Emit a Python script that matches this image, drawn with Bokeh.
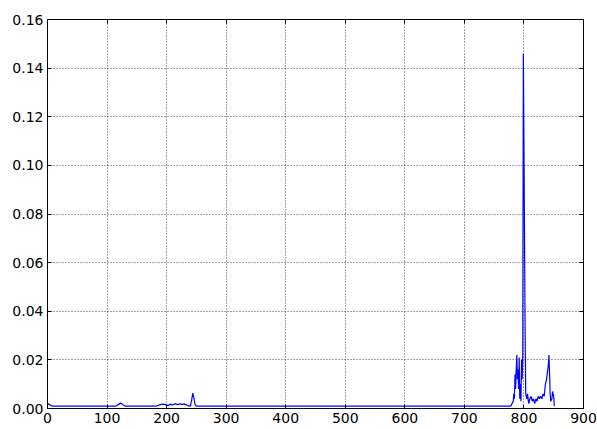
from bokeh.plotting import figure
from bokeh.models import LinearAxis, Range1d, FixedTicker, PrintfTickFormatter, ColumnDataSource
from bokeh.embed import file_html
from bokeh.resources import INLINE

x_vals = [0, 2, 6, 9, 115, 120, 123, 126, 130, 183, 188, 193, 198, 203, 207, 210, 214,
          218, 222, 226, 230, 235, 240, 242, 244, 246, 248, 250, 778,
          780, 782, 783, 784, 785, 786, 787, 788, 789, 790, 791, 792, 793, 794, 795,
          796, 797, 798, 799, 800, 801, 802, 803, 805, 806, 808, 810, 812, 814, 816,
          818, 820, 822, 824, 826, 828, 830, 832, 834, 836, 838, 840, 841, 842, 843,
          844, 845, 847, 848, 850, 851]
y_vals = [0.002, 0.0018, 0.0012, 0.001, 0.001, 0.0018, 0.0022, 0.0017, 0.001, 0.001,
          0.0015, 0.0018, 0.0016, 0.0012, 0.0018, 0.0014, 0.002, 0.0016, 0.0019, 0.0017,
          0.0019, 0.0012, 0.001, 0.0035, 0.0063, 0.004, 0.0015, 0.001, 0.001,
          0.002, 0.003, 0.006, 0.004, 0.014, 0.008, 0.016, 0.022, 0.012, 0.016, 0.008,
          0.021, 0.004, 0.010, 0.003, 0.020, 0.012, 0.022, 0.146, 0.110, 0.070, 0.030,
          0.006, 0.004, 0.006, 0.002, 0.004, 0.005, 0.003, 0.004, 0.002, 0.004, 0.003,
          0.005, 0.004, 0.005, 0.004, 0.006, 0.005, 0.010, 0.012, 0.016, 0.018, 0.022,
          0.014, 0.006, 0.003, 0.004, 0.007, 0.005, 0.001]

x_ticks = [0, 100, 200, 300, 400, 500, 600, 700, 800, 900]
y_ticks = [0.0, 0.02, 0.04, 0.06, 0.08, 0.10, 0.12, 0.14, 0.16]

FONT = "DejaVu Sans"

p = figure(width=597, height=429, output_backend="svg", toolbar_location=None,
           x_range=Range1d(0, 900), y_range=Range1d(0, 0.16),
           min_border_left=47, min_border_right=14, min_border_top=19, min_border_bottom=21,
           x_axis_location="below", y_axis_location="left")
p.background_fill_color = "white"
p.border_fill_color = "white"
p.outline_line_color = "black"
p.outline_line_width = 1

src = ColumnDataSource(dict(x=x_vals, y=y_vals))
p.line("x", "y", source=src, line_color="blue", line_width=1.2)

for ax in p.xaxis:
    ax.ticker = FixedTicker(ticks=x_ticks)
for ax in p.yaxis:
    ax.ticker = FixedTicker(ticks=y_ticks)
    ax.formatter = PrintfTickFormatter(format="%.2f")

for ax in list(p.xaxis) + list(p.yaxis):
    ax.axis_line_color = "black"
    ax.major_tick_in = 4
    ax.major_tick_out = 0
    ax.minor_tick_line_color = None
    ax.major_tick_line_color = "black"
    ax.major_label_text_font = FONT
    ax.major_label_text_font_size = "14px"
    ax.major_label_text_color = "black"
    ax.major_label_standoff = 4

# top and right axes carrying only the inside ticks
top = LinearAxis(ticker=FixedTicker(ticks=x_ticks), major_tick_in=4, major_tick_out=0,
                 minor_tick_line_color=None, major_label_text_color=None,
                 major_label_standoff=0, axis_line_color="black")
right = LinearAxis(ticker=FixedTicker(ticks=y_ticks), major_tick_in=4, major_tick_out=0,
                   minor_tick_line_color=None, major_label_text_color=None,
                   major_label_standoff=0, axis_line_color="black")
p.add_layout(top, "above")
p.add_layout(right, "right")

for g in (p.xgrid[0], p.ygrid[0]):
    g.grid_line_color = "black"
    g.grid_line_alpha = 0.7
    g.grid_line_dash = "1 2"
    g.grid_line_width = 1
p.xgrid[0].ticker = FixedTicker(ticks=x_ticks)
p.ygrid[0].ticker = FixedTicker(ticks=y_ticks)

open("out.html", "w").write(file_html(p, INLINE))
